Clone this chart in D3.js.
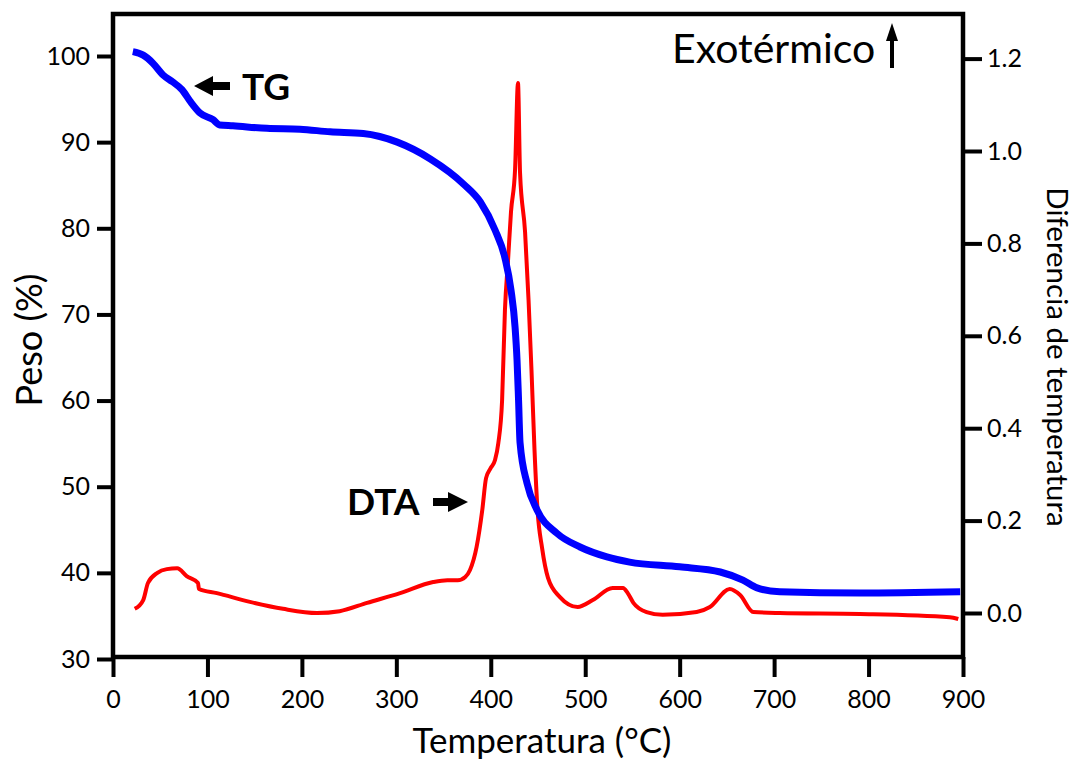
<!DOCTYPE html>
<html>
<head>
<meta charset="utf-8">
<script src="https://cdn.jsdelivr.net/npm/d3@7"></script>
<style>
	body { margin: 0; background: #fff; }
	text { font-family: Lato, "Open Sans", sans-serif; fill: #000; }
</style>
</head>
<body>
<svg id="chart" width="1077" height="761"></svg>
<script>
"use strict"

// TG curve: temperature (°C) and weight (%)
var tgTemp = [21, 32, 42, 53, 63, 73, 82, 92, 106, 113, 127, 163, 198, 230, 265, 301, 336, 371, 389, 404.5, 415, 421.4, 425.7, 427.8, 429.4, 431, 438.4, 449, 470, 494.5, 523, 547, 600, 643, 667, 682, 706, 791, 897];
var tgWeight = [100.5, 100.1, 99.2, 97.8, 97.0, 96.1, 94.7, 93.4, 92.6, 92.0, 91.9, 91.6, 91.5, 91.2, 91.0, 90.0, 88.05, 85.15, 83.05, 79.8, 76.55, 72.85, 68.55, 64.7, 60.1, 55.1, 50.4, 47.3, 44.6, 43.0, 41.85, 41.25, 40.7, 40.1, 39.15, 38.25, 37.8, 37.65, 37.8];

// DTA curve: temperature (°C) and temperature difference
var dtaTemp = [23, 32, 37, 47, 57, 68, 78, 90, 91, 110, 145, 180, 216, 240, 269, 304, 339, 354, 365, 373, 378, 385, 391, 395, 400, 404.5, 408, 412, 415, 418.3, 421.4, 425.7, 428.8, 431, 436.3, 440, 443.1, 446.3, 449.5, 454.3, 460.6, 473, 492, 508, 529, 540, 545, 551, 565, 582, 618, 632, 653, 664, 678, 706, 791, 886, 895];
var dtaValue = [0.009, 0.028, 0.065, 0.087, 0.095, 0.097, 0.080, 0.065, 0.052, 0.043, 0.024, 0.009, 0.000, 0.004, 0.022, 0.043, 0.067, 0.071, 0.071, 0.078, 0.093, 0.143, 0.223, 0.292, 0.314, 0.331, 0.368, 0.461, 0.656, 0.764, 0.868, 0.959, 1.147, 0.952, 0.825, 0.677, 0.526, 0.353, 0.223, 0.141, 0.076, 0.035, 0.013, 0.028, 0.054, 0.054, 0.043, 0.022, 0.002, -0.004, 0.002, 0.013, 0.052, 0.039, 0.002, 0.000, -0.002, -0.009, -0.013];

var xTicks = [0, 100, 200, 300, 400, 500, 600, 700, 800, 900];
var leftTicks = [30, 40, 50, 60, 70, 80, 90, 100];
var rightTicks = [0.0, 0.2, 0.4, 0.6, 0.8, 1.0, 1.2];

var svg = d3.select("#chart");

var plotLeft = 113, plotRight = 963, plotTop = 14, plotBottom = 657;

var x = d3.scaleLinear().domain([0, 900]).range([plotLeft, plotRight]);
var yTG = d3.scaleLinear().domain([30, 100]).range([659, 56]);
var yDTA = d3.scaleLinear().domain([0, 1.0]).range([613, 151]);

// frame
svg.append("rect")
	.attr("x", plotLeft)
	.attr("y", plotTop)
	.attr("width", plotRight - plotLeft)
	.attr("height", plotBottom - plotTop)
	.attr("fill", "none")
	.attr("stroke", "#000")
	.attr("stroke-width", 4.5)
	;

function styleAxis(g) {
	g.select(".domain").remove();
	g.selectAll(".tick line").attr("stroke", "#000").attr("stroke-width", 4);
	g.selectAll(".tick text").style("font-size", "25px");
}

svg.append("g")
	.attr("transform", "translate(0," + plotBottom + ")")
	.call(d3.axisBottom(x).tickValues(xTicks).tickSize(20).tickPadding(13))
	.call(styleAxis)
	;
svg.append("g")
	.attr("transform", "translate(" + plotLeft + ",0)")
	.call(d3.axisLeft(yTG).tickValues(leftTicks).tickSize(16).tickPadding(7))
	.call(styleAxis)
	;
svg.append("g")
	.attr("transform", "translate(" + plotRight + ",0)")
	.call(d3.axisRight(yDTA).tickValues(rightTicks).tickSize(19).tickPadding(5).tickFormat(d3.format(".1f")))
	.call(styleAxis)
	;

// curves
var tgLine = d3.line()
	.x(function(d, i) { return x(tgTemp[i]); })
	.y(function(d, i) { return yTG(tgWeight[i]); })
	.curve(d3.curveMonotoneX)
	;
var dtaLine = d3.line()
	.x(function(d, i) { return x(dtaTemp[i]); })
	.y(function(d, i) { return yDTA(dtaValue[i]); })
	.curve(d3.curveMonotoneX)
	;

svg.append("path")
	.attr("d", dtaLine(dtaTemp))
	.attr("fill", "none")
	.attr("stroke", "rgb(255,0,0)")
	.attr("stroke-width", 4)
	.attr("stroke-linejoin", "round")
	;
svg.append("path")
	.attr("d", tgLine(tgTemp))
	.attr("fill", "none")
	.attr("stroke", "rgb(0,0,255)")
	.attr("stroke-width", 7)
	.attr("stroke-linejoin", "round")
	;

// axis titles
svg.append("text")
	.attr("x", 542)
	.attr("y", 753)
	.attr("text-anchor", "middle")
	.style("font-size", "35px")
	.text("Temperatura (°C)")
	;
svg.append("text")
	.attr("transform", "translate(42,340) rotate(-90)")
	.attr("text-anchor", "middle")
	.style("font-size", "36px")
	.text("Peso (%)")
	;
svg.append("text")
	.attr("transform", "translate(1047,357) rotate(90)")
	.attr("text-anchor", "middle")
	.style("font-size", "29.5px")
	.text("Diferencia de temperatura")
	;

// annotations
svg.append("text")
	.attr("x", 672)
	.attr("y", 63)
	.style("font-size", "41px")
	.text("Exotérmico")
	;
svg.append("path")
	.attr("d", "M 892 68 V 38")
	.attr("stroke", "#000")
	.attr("stroke-width", 4)
	;
svg.append("path")
	.attr("d", "M 892 23 L 898 41 L 886 41 Z")
	.attr("fill", "#000")
	;

svg.append("text")
	.attr("x", 242)
	.attr("y", 100)
	.style("font-size", "37px")
	.style("font-weight", "bold")
	.text("TG")
	;
svg.append("path")
	.attr("d", "M 194 86 L 213 76 L 213 82 L 230 82 L 230 90 L 213 90 L 213 96 Z")
	.attr("fill", "#000")
	;

svg.append("text")
	.attr("x", 347)
	.attr("y", 515)
	.style("font-size", "37px")
	.style("font-weight", "bold")
	.text("DTA")
	;
svg.append("path")
	.attr("d", "M 468 502 L 448 492 L 448 498 L 433 498 L 433 506 L 448 506 L 448 512 Z")
	.attr("fill", "#000")
	;
</script>
</body>
</html>
